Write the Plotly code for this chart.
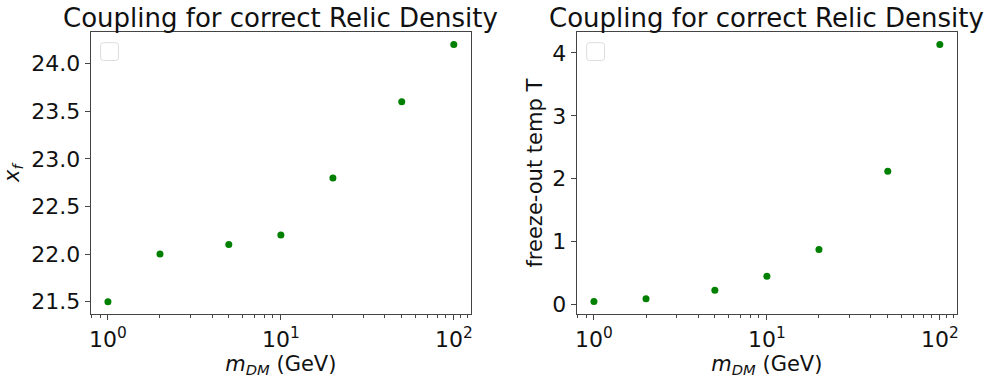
import plotly.graph_objects as go

# Data
m_dm = [1, 2, 5, 10, 20, 50, 100]
x_f = [21.5, 22.0, 22.1, 22.2, 22.8, 23.6, 24.2]
t_fo = [0.047, 0.091, 0.226, 0.450, 0.877, 2.119, 4.132]

title_text = "Coupling for correct Relic Density"
xlabel = "<i>m</i><sub><i>DM</i></sub> (GeV)"
ylabel_left = "<i>x</i><sub><i>f</i></sub>"
ylabel_right = "freeze-out temp T"

W, H = 986, 379
FONT = "DejaVu Sans"
FS_TICK = 22
FS_LAB = 21
FS_TITLE = 26
AXC = "#444444"
GREEN = "#008000"

# Plot area pixel positions
L1, R1 = 89, 471
L2, R2 = 577, 959
TOP, BOT = 32, 317

def px(x):
    return x / W

def py(y):
    return 1 - y / H

fig = go.Figure()
fig.add_trace(go.Scatter(x=m_dm, y=x_f, mode="markers",
                         marker=dict(color=GREEN, size=7), xaxis="x", yaxis="y",
                         showlegend=False))
fig.add_trace(go.Scatter(x=m_dm, y=t_fo, mode="markers",
                         marker=dict(color=GREEN, size=7), xaxis="x2", yaxis="y2",
                         showlegend=False))

def xaxis_cfg(l, r, anchor):
    return dict(
        type="log", domain=[px(l), px(r)], anchor=anchor,
        range=[-0.1, 2.1],
        tickvals=[1, 10, 100],
        ticktext=["10<sup>0</sup>", "10<sup>1</sup>", "10<sup>2</sup>"],
        ticks="outside", ticklen=5, tickwidth=1, tickcolor=AXC,
        minor=dict(ticks="outside", ticklen=3, tickwidth=1, tickcolor=AXC,
                   tickvals=[0.8, 0.9, 2, 3, 4, 5, 6, 7, 8, 9, 20, 30, 40, 50, 60, 70, 80, 90, 110, 120],
                   showgrid=False),
        showline=True, linecolor=AXC, linewidth=1, mirror=True,
        showgrid=False, zeroline=False,
        tickfont=dict(family=FONT, size=FS_TICK, color="#111"),
        title=dict(text=xlabel, font=dict(family=FONT, size=FS_LAB, color="#111"), standoff=2),
    )

def yaxis_cfg(anchor, rng, tickvals, fmt, title, standoff):
    return dict(
        domain=[py(BOT), py(TOP)], anchor=anchor,
        range=rng, tickvals=tickvals, tickformat=fmt,
        ticks="outside", ticklen=5, tickwidth=1, tickcolor=AXC,
        showline=True, linecolor=AXC, linewidth=1, mirror=True,
        showgrid=False, zeroline=False,
        tickfont=dict(family=FONT, size=FS_TICK, color="#111"),
        title=dict(text=title, font=dict(family=FONT, size=FS_LAB, color="#111"), standoff=standoff),
    )

fig.update_layout(
    width=W, height=H,
    margin=dict(l=0, r=0, t=0, b=0),
    paper_bgcolor="white", plot_bgcolor="white",
    xaxis=xaxis_cfg(L1, R1, "y"),
    yaxis=yaxis_cfg("x", [21.365, 24.335], [21.5, 22.0, 22.5, 23.0, 23.5, 24.0], ".1f", ylabel_left, 8),
    xaxis2=xaxis_cfg(L2, R2, "y2"),
    yaxis2=yaxis_cfg("x2", [-0.158, 4.336], [0, 1, 2, 3, 4], "d", ylabel_right, 3),
    showlegend=False,
)

# Titles
for l, r in [(L1, R1), (L2, R2)]:
    fig.add_annotation(x=px((l + r) / 2), y=py(TOP), xref="paper", yref="paper",
                       text=title_text, showarrow=False, xanchor="center", yanchor="bottom",
                       yshift=-3, font=dict(family=FONT, size=FS_TITLE, color="#111"))

# Empty legend boxes (rounded)
def rounded_rect(x0, y0, x1, y1, r):
    X = lambda v: f"{px(v):.5f}"
    Y = lambda v: f"{py(v):.5f}"
    return (f"M {X(x0+r)},{Y(y0)} L {X(x1-r)},{Y(y0)} Q {X(x1)},{Y(y0)} {X(x1)},{Y(y0+r)} "
            f"L {X(x1)},{Y(y1-r)} Q {X(x1)},{Y(y1)} {X(x1-r)},{Y(y1)} "
            f"L {X(x0+r)},{Y(y1)} Q {X(x0)},{Y(y1)} {X(x0)},{Y(y1-r)} "
            f"L {X(x0)},{Y(y0+r)} Q {X(x0)},{Y(y0)} {X(x0+r)},{Y(y0)} Z")

for l in (L1, L2):
    fig.add_shape(type="path", xref="paper", yref="paper",
                  path=rounded_rect(l + 10, 43, l + 28, 61, 3),
                  line=dict(color="#dddddd", width=1), fillcolor="rgba(255,255,255,0.8)")

fig.write_html("out.html")
